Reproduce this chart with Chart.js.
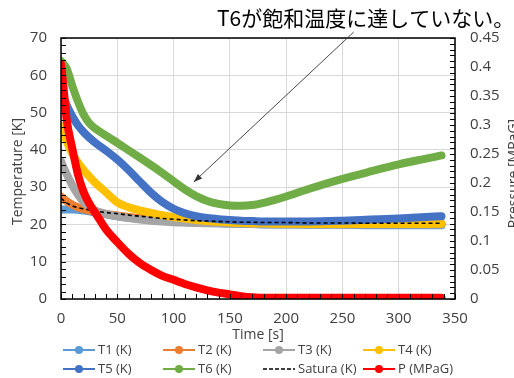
<!DOCTYPE html>
<html>
<head>
<meta charset="utf-8">
<script src="https://cdn.jsdelivr.net/npm/chart.js@4/dist/chart.umd.min.js"></script>
<style>
  html, body { margin: 0; padding: 0; background: #fff; overflow: hidden; }
</style>
</head>
<body>
<canvas id="cooldownChart" width="514" height="378"></canvas>
<script>
// Time axis (s) shared by every series
const timeSec = [0, 2, 5, 10, 15, 20, 25, 30, 40, 50, 60, 70, 80, 90, 100, 110, 120, 130, 140, 150,
  160, 170, 180, 190, 200, 220, 250, 275, 300, 320, 338];

// Temperatures (K)
const t1 = [24, 24, 24, 24, 23.9, 23.7, 23.5, 23.2, 22.7, 22.2, 21.8, 21.5, 21.2, 21, 20.8, 20.6, 20.5, 20.4,
  20.3, 20.2, 20.1, 20.1, 20, 20, 20, 19.9, 19.9, 19.8, 19.8, 19.8, 19.8];
const t2 = [27.5, 27, 26.2, 25.3, 24.6, 24.1, 23.7, 23.4, 22.8, 22.4, 22, 21.7, 21.4, 21.2, 21, 20.9, 20.7, 20.6,
  20.5, 20.4, 20.4, 20.3, 20.3, 20.3, 20.2, 20.2, 20.2, 20.2, 20.2, 20.2, 20.2];
const t3 = [37, 35.5, 33.5, 30.5, 28, 26, 24.8, 23.8, 22.8, 22.2, 21.7, 21.3, 21, 20.8, 20.6, 20.5, 20.4, 20.3,
  20.3, 20.2, 20.2, 20.1, 20.1, 20, 20, 20, 20, 20, 20, 20, 20];
const t4 = [46.5, 44.8, 42.3, 39, 36.6, 34.6, 32.9, 31.3, 28.6, 25.9, 24.6, 23.8, 23.1, 22.5, 22, 21.6, 21.2, 20.9,
  20.7, 20.5, 20.4, 20.3, 20.3, 20.2, 20.2, 20.1, 20.1, 20.1, 20.1, 20.1, 20.2];
const t5 = [55.5, 54.2, 52, 49, 46.6, 44.8, 43.3, 42, 39.8, 37.4, 34.6, 31.5, 28.5, 26, 24.2, 23, 22.2, 21.7,
  21.4, 21.2, 21, 20.9, 20.8, 20.8, 20.8, 20.8, 21, 21.3, 21.6, 21.9, 22.2];
const t6 = [63.8, 63.2, 61.8, 57.2, 53, 49.5, 47.2, 45.8, 43.8, 41.9, 39.9, 37.9, 35.9, 33.8, 31.6, 29.4, 27.6, 26.3,
  25.5, 25.1, 25, 25.2, 25.8, 26.6, 27.5, 29.5, 32.2, 34.2, 36.1, 37.4, 38.5];
const satura = [27, 26.5, 25.8, 25, 24.5, 24.2, 23.9, 23.6, 23.2, 22.9, 22.5, 22.2, 21.9, 21.6, 21.4, 21.2, 21, 20.9,
  20.8, 20.7, 20.6, 20.6, 20.5, 20.5, 20.5, 20.4, 20.4, 20.3, 20.3, 20.3, 20.3];

// Pressure (MPaG), right axis
const pressure = [0.405, 0.37, 0.31, 0.26, 0.215, 0.185, 0.165, 0.15, 0.12, 0.098, 0.078, 0.062, 0.05, 0.04, 0.033,
  0.026, 0.02, 0.015, 0.011, 0.008, 0.005, 0.003, 0.002, 0.002, 0.002, 0.002, 0.002, 0.002, 0.002, 0.002, 0.002];

// Tick settings
const xTicks = { min: 0, max: 350, step: 50, minor: 10 };
const tempTicks = { min: 0, max: 70, step: 10, minor: 2 };
const presTicks = { min: 0, max: 0.45, step: 0.05, minor: 0.01 };

const chartTitle = 'T6が飽和温度に達していない。';

const textColor = '#404040';
const fontFamily = '"Open Sans", "Noto Sans", sans-serif';

// Build {x, y} points for a series
function toPoints(values) {
  return timeSec.map((t, i) => ({ x: t, y: values[i] }));
}

function seriesSet(label, values, color, order, axis) {
  return {
    label: label,
    data: toPoints(values),
    borderColor: color,
    backgroundColor: color,
    borderWidth: 8,
    borderCapStyle: 'round',
    borderJoinStyle: 'round',
    pointRadius: 0,
    cubicInterpolationMode: 'monotone',
    yAxisID: axis || 'y',
    order: order,
    legendMarker: true
  };
}

const datasets = [
  seriesSet('T1 (K)', t1, '#5B9BD5', 7),
  seriesSet('T2 (K)', t2, '#ED7D31', 6),
  seriesSet('T3 (K)', t3, '#A5A5A5', 5),
  seriesSet('T4 (K)', t4, '#FFC000', 4),
  seriesSet('T5 (K)', t5, '#4472C4', 3),
  seriesSet('T6 (K)', t6, '#70AD47', 2),
  {
    label: 'Satura (K)',
    data: toPoints(satura),
    borderColor: '#000000',
    borderWidth: 1.6,
    borderDash: [4, 3],
    pointRadius: 0,
    cubicInterpolationMode: 'monotone',
    yAxisID: 'y',
    order: 1,
    legendMarker: false
  },
  seriesSet('P (MPaG)', pressure, '#FF0000', 0, 'y1')
];

// Extra drawing: frame, minor ticks, titles, arrow note, legend
const decorPlugin = {
  id: 'decor',
  afterDraw(chart) {
    const c = chart.ctx;
    const area = chart.chartArea;
    const sx = chart.scales.x;
    const sy = chart.scales.y;
    const sy1 = chart.scales.y1;
    c.save();

    // frame
    c.strokeStyle = '#000000';
    c.lineWidth = 1.5;
    c.strokeRect(area.left, area.top, area.right - area.left, area.bottom - area.top);

    // minor ticks (inside)
    c.lineWidth = 1;
    c.beginPath();
    for (let v = tempTicks.min; v <= tempTicks.max + 1e-9; v += tempTicks.minor) {
      const y = Math.round(sy.getPixelForValue(v)) + 0.5;
      c.moveTo(area.left, y);
      c.lineTo(area.left + 5, y);
    }
    for (let v = xTicks.min; v <= xTicks.max + 1e-9; v += xTicks.minor) {
      const x = Math.round(sx.getPixelForValue(v)) + 0.5;
      c.moveTo(x, area.bottom);
      c.lineTo(x, area.bottom - 5);
    }
    for (let v = presTicks.min; v <= presTicks.max + 1e-9; v += presTicks.minor) {
      const y = Math.round(sy1.getPixelForValue(v)) + 0.5;
      c.moveTo(area.right, y);
      c.lineTo(area.right - 5, y);
    }
    c.stroke();

    // axis titles
    c.fillStyle = textColor;
    c.font = '14px ' + fontFamily;
    c.textAlign = 'center';
    c.textBaseline = 'middle';
    c.fillText('Time [s]', (area.left + area.right) / 2, 335);

    c.save();
    c.translate(18, (area.top + area.bottom) / 2 + 3);
    c.rotate(-Math.PI / 2);
    c.fillText('Temperature [K]', 0, 0);
    c.restore();

    c.save();
    c.translate(514, (area.top + area.bottom) / 2 + 5);
    c.rotate(-Math.PI / 2);
    c.fillText('Pressure [MPaG]', 0, 0);
    c.restore();

    // chart title
    c.fillStyle = '#000000';
    c.font = '21px "Noto Sans CJK JP", sans-serif';
    c.textAlign = 'left';
    c.fillText(chartTitle, 217, 18);

    // arrow note pointing at T6
    const x0 = sx.getPixelForValue(260), y0 = sy.getPixelForValue(71.6);
    const x1 = sx.getPixelForValue(118), y1 = sy.getPixelForValue(31.4);
    c.strokeStyle = '#333333';
    c.fillStyle = '#333333';
    c.lineWidth = 0.9;
    c.beginPath();
    c.moveTo(x0, y0);
    c.lineTo(x1, y1);
    c.stroke();
    const ang = Math.atan2(y1 - y0, x1 - x0);
    c.beginPath();
    c.moveTo(x1, y1);
    c.lineTo(x1 - 9 * Math.cos(ang - 0.35), y1 - 9 * Math.sin(ang - 0.35));
    c.lineTo(x1 - 9 * Math.cos(ang + 0.35), y1 - 9 * Math.sin(ang + 0.35));
    c.closePath();
    c.fill();

    // legend, 4 columns x 2 rows
    c.font = '13px ' + fontFamily;
    c.textAlign = 'left';
    c.textBaseline = 'middle';
    chart.data.datasets.forEach((ds, i) => {
      const col = i % 4;
      const row = Math.floor(i / 4);
      const lx = 63 + col * 100;
      const ly = 350 + row * 19;
      c.strokeStyle = ds.borderColor;
      c.lineWidth = ds.legendMarker ? 2 : 1.6;
      c.setLineDash(ds.legendMarker ? [] : [4, 2]);
      c.beginPath();
      c.moveTo(lx, ly);
      c.lineTo(lx + 32, ly);
      c.stroke();
      c.setLineDash([]);
      if (ds.legendMarker) {
        c.fillStyle = ds.borderColor;
        c.beginPath();
        c.arc(lx + 16, ly, 4, 0, Math.PI * 2);
        c.fill();
      }
      c.fillStyle = textColor;
      c.fillText(ds.label, lx + 35, ly);
    });

    c.restore();
  }
};

const ctx = document.getElementById('cooldownChart').getContext('2d');
const cooldownChart = new Chart(ctx, {
  type: 'line',
  data: { datasets: datasets },
  options: {
    responsive: false,
    animation: false,
    devicePixelRatio: 1,
    layout: { padding: { top: 38, left: 0, right: 0, bottom: 0 } },
    plugins: {
      legend: { display: false },
      tooltip: { enabled: false }
    },
    scales: {
      x: {
        type: 'linear',
        min: xTicks.min,
        max: xTicks.max,
        border: { display: false },
        grid: { color: '#d9d9d9', drawTicks: false },
        ticks: {
          stepSize: xTicks.step,
          padding: 11,
          color: textColor,
          font: { size: 15, family: fontFamily }
        },
        afterFit(s) { s.height = 378 - 299; }
      },
      y: {
        position: 'left',
        min: tempTicks.min,
        max: tempTicks.max,
        border: { display: false },
        grid: { color: '#d9d9d9', drawTicks: false },
        ticks: {
          stepSize: tempTicks.step,
          padding: 14,
          color: textColor,
          font: { size: 15, family: fontFamily }
        },
        afterFit(s) { s.width = 61; }
      },
      y1: {
        position: 'right',
        min: presTicks.min,
        max: presTicks.max,
        border: { display: false },
        grid: { drawOnChartArea: false, drawTicks: false },
        ticks: {
          stepSize: presTicks.step,
          padding: 15,
          color: textColor,
          font: { size: 15, family: fontFamily },
          callback: v => String(+v.toFixed(2))
        },
        afterFit(s) { s.width = 514 - 455; }
      }
    }
  },
  plugins: [decorPlugin]
});
</script>
</body>
</html>
